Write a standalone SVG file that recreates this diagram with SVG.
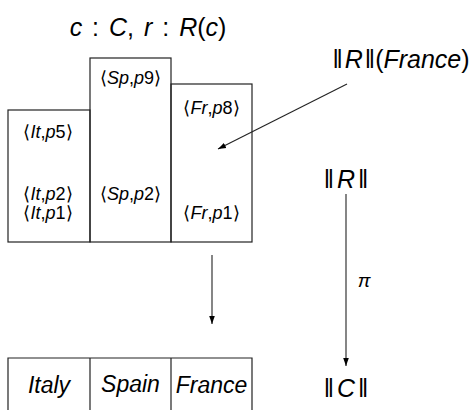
<svg xmlns="http://www.w3.org/2000/svg" width="471" height="410" viewBox="0 0 471 410">
<style>
text{font-family:"Liberation Sans",Arial,sans-serif;fill:#000}
.it{font-style:italic}
.cell{font-size:18px}
.big{font-size:25px}
.cty{font-size:23px;font-style:italic}
.box{fill:none;stroke:#222;stroke-width:1.2}
.con{stroke:#222;stroke-width:1.1;fill:none}
</style>
<defs>
<marker id="ah" viewBox="0 0 10 10" refX="10" refY="5" markerWidth="8" markerHeight="8" markerUnits="userSpaceOnUse" orient="auto"><path d="M0,1.5 L10,5 L0,8.5 Z" fill="#000"/></marker>
</defs>
<text x="148" y="36" class="big" text-anchor="middle" word-spacing="3"><tspan class="it">c</tspan> : <tspan class="it">C</tspan>, <tspan class="it">r</tspan> : <tspan class="it">R</tspan>(<tspan class="it">c</tspan>)</text>
<g id="col-it">
<rect class="box" x="8" y="110" width="82" height="132"/>
<text class="cell" x="48" y="138" text-anchor="middle">⟨<tspan class="it">It</tspan>,<tspan class="it">p</tspan>5⟩</text>
<text class="cell" x="48" y="200" text-anchor="middle">⟨<tspan class="it">It</tspan>,<tspan class="it">p</tspan>2⟩</text>
<text class="cell" x="48" y="219" text-anchor="middle">⟨<tspan class="it">It</tspan>,<tspan class="it">p</tspan>1⟩</text>
</g>
<g id="col-sp">
<rect class="box" x="90" y="58" width="81" height="184"/>
<text class="cell" x="130.5" y="84" text-anchor="middle">⟨<tspan class="it">Sp</tspan>,<tspan class="it">p</tspan>9⟩</text>
<text class="cell" x="130.5" y="200" text-anchor="middle">⟨<tspan class="it">Sp</tspan>,<tspan class="it">p</tspan>2⟩</text>
</g>
<g id="col-fr">
<rect class="box" x="171" y="84" width="81" height="158"/>
<text class="cell" x="211.5" y="114" text-anchor="middle">⟨<tspan class="it">Fr</tspan>,<tspan class="it">p</tspan>8⟩</text>
<text class="cell" x="211.5" y="219" text-anchor="middle">⟨<tspan class="it">Fr</tspan>,<tspan class="it">p</tspan>1⟩</text>
</g>
<g id="countries">
<path class="box" d="M8,410 V358 H252 V410 M90,358 V410 M171,358 V410"/>
<text class="cty" x="49" y="393" text-anchor="middle">Italy</text>
<text class="cty" x="130.5" y="392" text-anchor="middle">Spain</text>
<text class="cty" x="211.5" y="393" text-anchor="middle">France</text>
</g>
<g id="label-rf"><text class="big" x="401" y="68" text-anchor="middle">‖<tspan class="it" dx="2">R</tspan><tspan dx="2">‖</tspan>(<tspan class="it">France</tspan>)</text></g>
<g id="label-r"><text class="big" x="346" y="188" text-anchor="middle">‖<tspan class="it" dx="3">R</tspan><tspan dx="3">‖</tspan></text></g>
<g id="label-c"><text class="big" x="346" y="397" text-anchor="middle">‖<tspan class="it" dx="3">C</tspan><tspan dx="3">‖</tspan></text></g>
<g id="connectors">
<line class="con" x1="347" y1="84" x2="218" y2="149" marker-end="url(#ah)"/>
<line class="con" x1="346" y1="194" x2="346" y2="366" marker-end="url(#ah)"/>
<line class="con" x1="212" y1="255" x2="212" y2="324" marker-end="url(#ah)"/>
<text x="364" y="287" font-size="19" text-anchor="middle" font-family="DejaVu Serif,serif" font-style="italic">π</text>
</g>
</svg>
